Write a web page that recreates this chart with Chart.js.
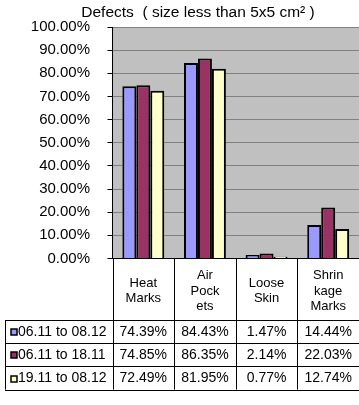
<!DOCTYPE html>
<html>
<head>
<meta charset="utf-8">
<script src="https://cdn.jsdelivr.net/npm/chart.js@4"></script>
<style>
  html, body { margin: 0; padding: 0; background: #fff; }
  canvas { display: block; }
</style>
</head>
<body>
<canvas id="c" width="359" height="405"></canvas>
<script>
// Defect categories and how their names wrap in the table header
const categories = ['Heat Marks', 'Air Pockets', 'Loose Skin', 'Shrinkage Marks'];
const categoryLines = [['Heat', 'Marks'], ['Air', 'Pock', 'ets'], ['Loose', 'Skin'], ['Shrin', 'kage', 'Marks']];

// Periods (one series each) and their percentages per category
const seriesNames = ['06.11 to 08.12', '06.11 to 18.11', '19.11 to 08.12'];
const period1 = [74.39, 84.43, 1.47, 14.44];
const period2 = [74.85, 86.35, 2.14, 22.03];
const period3 = [72.49, 81.95, 0.77, 12.74];
const seriesColors = ['#9999FF', '#993366', '#FFFFCC'];

// Value axis tick labels
const yTickValues = [0, 10, 20, 30, 40, 50, 60, 70, 80, 90, 100];
const chartTitle = 'Defects  ( size less than 5x5 cm\u00B2 )';

const FONT = "'Liberation Sans', Arial, sans-serif";
const fmt = v => v.toFixed(2) + '%';

// Grey plot background
const plotBackground = {
  id: 'plotBackground',
  beforeDraw(chart) {
    const { ctx, chartArea: a } = chart;
    ctx.save();
    ctx.fillStyle = '#C0C0C0';
    ctx.fillRect(a.left, a.top, a.right - a.left, a.bottom - a.top);
    ctx.restore();
  }
};

// Title above the plot
const titlePlugin = {
  id: 'titleText',
  afterDraw(chart) {
    const { ctx } = chart;
    ctx.save();
    ctx.fillStyle = '#000';
    ctx.font = '15.5px ' + FONT;
    ctx.textAlign = 'center';
    ctx.textBaseline = 'middle';
    ctx.fillText(chartTitle, 198, 12.5);
    ctx.restore();
  }
};

// Data table under the plot: category header row plus one row per series
const dataTable = {
  id: 'dataTable',
  afterDraw(chart) {
    const { ctx, chartArea: a, scales: { x } } = chart;
    const datasets = chart.data.datasets;
    const n = categories.length;
    const colW = (a.right - a.left) / n;
    const headerBottom = 320;
    const rowH = 23.2;
    const tableBottom = headerBottom + rowH * datasets.length;
    const tableLeft = 5;
    const tableRight = chart.width;
    const px = v => Math.round(v) + 0.5;

    ctx.save();
    ctx.strokeStyle = '#000';
    ctx.lineWidth = 1;
    ctx.beginPath();
    for (let i = 0; i < n; i++) {
      const ex = px(a.left + i * colW);
      ctx.moveTo(ex, a.bottom);
      ctx.lineTo(ex, tableBottom);
    }
    ctx.moveTo(px(tableLeft), headerBottom);
    ctx.lineTo(px(tableLeft), tableBottom);
    for (let r = 0; r <= datasets.length; r++) {
      const yy = px(headerBottom + r * rowH);
      ctx.moveTo(tableLeft, yy);
      ctx.lineTo(tableRight, yy);
    }
    ctx.stroke();

    ctx.fillStyle = '#000';
    ctx.textAlign = 'center';
    ctx.textBaseline = 'middle';
    ctx.font = '13px ' + FONT;
    const headerMid = 291;
    const lineH = 15.5;
    categoryLines.forEach((lines, i) => {
      const cx = x.getPixelForValue(i);
      const y0 = headerMid - (lines.length - 1) * lineH / 2;
      lines.forEach((t, k) => ctx.fillText(t, cx, y0 + k * lineH));
    });

    ctx.font = '14px ' + FONT;
    datasets.forEach((ds, r) => {
      const cy = headerBottom + r * rowH + rowH / 2 + 0.5;
      ds.data.forEach((v, i) => {
        ctx.textAlign = 'center';
        ctx.fillText(fmt(v), x.getPixelForValue(i), cy);
      });
      // legend key
      ctx.fillStyle = ds.backgroundColor;
      ctx.fillRect(11, Math.round(cy) - 3, 6, 6);
      ctx.strokeStyle = '#000';
      ctx.lineWidth = 1.5;
      ctx.strokeRect(11, Math.round(cy) - 3, 6, 6);
      ctx.fillStyle = '#000';
      ctx.textAlign = 'left';
      ctx.fillText(ds.label, 18, cy);
    });
    ctx.restore();
  }
};

const periods = [period1, period2, period3];

new Chart(document.getElementById('c'), {
  type: 'bar',
  data: {
    labels: categories,
    datasets: seriesNames.map((name, i) => ({
      label: name,
      data: periods[i],
      backgroundColor: seriesColors[i],
      borderColor: '#000',
      borderWidth: 2,
      categoryPercentage: 0.68,
      barPercentage: 1
    }))
  },
  options: {
    responsive: false,
    animation: false,
    devicePixelRatio: 1,
    layout: { padding: { top: 27, bottom: 146.5, left: 0, right: 0 } },
    plugins: {
      legend: { display: false },
      title: { display: false },
      tooltip: { enabled: false }
    },
    scales: {
      x: { display: false },
      y: {
        min: 0,
        max: 100,
        afterBuildTicks(scale) {
          scale.ticks = yTickValues.map(v => ({ value: v }));
        },
        afterFit(scale) { scale.width = 112.5; },
        border: { display: true, color: '#000', width: 1 },
        grid: {
          color: ctx => ctx.tick && ctx.tick.value === 0 ? '#000' : '#808080',
          tickColor: '#000',
          tickLength: 5,
          lineWidth: 1
        },
        ticks: {
          color: '#000',
          padding: 17.5,
          font: { family: FONT, size: 15 },
          callback: v => fmt(v)
        }
      }
    }
  },
  plugins: [plotBackground, titlePlugin, dataTable]
});
</script>
</body>
</html>
